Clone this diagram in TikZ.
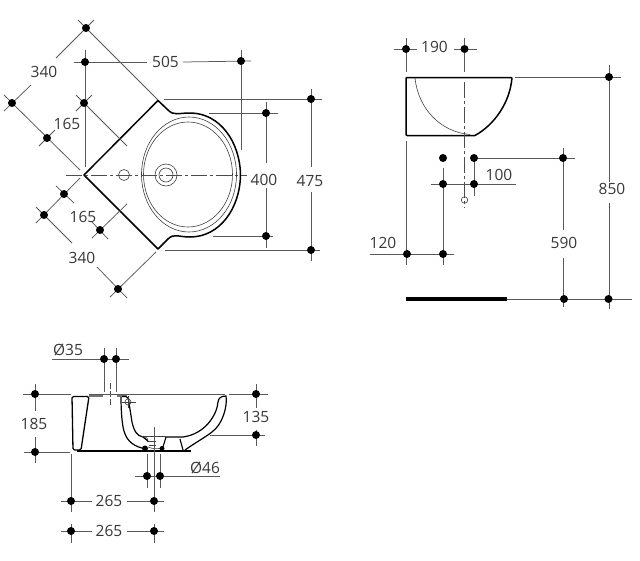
\documentclass[tikz,border=0pt]{standalone}
\usepackage{fontspec}
\setmainfont{Open Sans}
\tikzset{
  dimdot/.style={circle,fill=black,inner sep=0pt,minimum size=8pt},
  dimline/.style={draw=black!65,line width=0.75pt},
  dimlabel/.style={text=black!78,inner sep=0pt,font=\fontsize{15.5}{17}\selectfont},
  outline/.style={draw=black,line width=1.5pt,line join=round},
  thinline/.style={draw=black!75,line width=0.6pt},
  centreline/.style={draw=black!70,line width=0.7pt,dash pattern=on 16pt off 3pt on 3pt off 3pt}
}
\begin{document}
\begin{tikzpicture}[x=1pt,y=-1pt]
\useasboundingbox[fill=white] (0,0) rectangle (640,560);

% ===== top view =====
\draw[outline] (158,100.5) -- (84,175) -- (158,249) -- (168,239)
  .. controls (174,233) and (178,237) .. (190,237)
  .. controls (220,237) and (240,208) .. (240.5,175)
  .. controls (240,142) and (220,113) .. (190,113)
  .. controls (178,113) and (174,116) .. (168,110) -- cycle;
\draw[thinline] (189,174.5) ellipse [x radius=47.5,y radius=57.5];
\draw[thinline] (188,174.5) ellipse [x radius=44.5,y radius=52.5];
\node[circle,thinline,minimum size=22pt,inner sep=0pt] (drainA) at (166,175) {};
\node[circle,thinline,minimum size=14pt,inner sep=0pt] (drainB) at (166,175) {};
\node[circle,thinline,minimum size=11pt,inner sep=0pt] (tap) at (124,175) {};
\draw[centreline] (66,175) -- (247,175);

\draw[dimline] (78,20) -- (158,100);
\draw[dimline] (94,20) -- (56,58);
\draw[dimline] (31,85) -- (4,111);
\draw[dimline] (4,95) -- (80,170);
\draw[dimline] (55,130) -- (39,146);
\draw[dimline] (76,111) -- (92,95);
\draw[dimline] (76,95) -- (127,146);
\node[dimlabel] (l340a) at (44,72) {340};
\node[dimlabel] (l165a) at (67,124) {165};

\draw[dimline] (74,62) -- (147,62);
\draw[dimline] (183,62) -- (251,61);
\draw[dimline] (85,50) -- (85,167);
\draw[dimline] (241,50) -- (241,150);
\node[dimlabel] (l505) at (165.5,62) {505};

\draw[dimline] (311,89) -- (311,167);
\draw[dimline] (311,192) -- (311,261);
\draw[dimline] (164,99) -- (322,99);
\draw[dimline] (165,250) -- (320,250);
\node[dimlabel] (l475) at (310,181) {475};

\draw[dimline] (266,102) -- (266,163);
\draw[dimline] (266,188) -- (266,248);
\draw[dimline] (209,113) -- (278,113);
\draw[dimline] (213,236) -- (273,236);
\node[dimlabel] (l400) at (264,180) {400};

\draw[dimline] (80,178) -- (36,223);
\draw[dimline] (56,186) -- (74,203);
\draw[dimline] (36,207) -- (72,243);
\draw[dimline] (92,238) -- (127,204);
\draw[dimline] (92,222) -- (108,239);
\draw[dimline] (97,267) -- (127,298);
\draw[dimline] (110,297) -- (156,252);
\node[dimlabel] (l165b) at (83,217) {165};
\node[dimlabel] (l340b) at (82,258) {340};

% ===== side view =====
\draw[outline,rounded corners=1pt] (512,77.5) -- (406,77.5) -- (406,135.5) -- (475,135.5);
\draw[outline] (512,77.5) .. controls (510,103) and (494,125) .. (475,135.5);
\draw[thinline] (415,78) .. controls (418,108) and (440,132) .. (470,134.5);
\draw[centreline] (464.5,82) -- (464.5,208);
\node[circle,thinline,minimum size=6.5pt,inner sep=0pt] (axis) at (464.5,200) {};

\draw[dimline] (394,49) -- (417,49);
\draw[dimline] (454,49) -- (477,49);
\draw[dimline] (406,38) -- (406,72);
\draw[dimline] (464.5,38) -- (464.5,72);
\node[dimlabel] (l190) at (434.5,47) {190};

\draw[dimline] (474,158) -- (474,196);
\draw[dimline] (443,168) -- (443,265);
\draw[dimline] (431,184) -- (516,184);
\node[dimlabel] (l100) at (499,175) {100};

\draw[dimline] (474,158) -- (575,158);
\draw[dimline] (563,148) -- (563,230);
\draw[dimline] (563,258) -- (563,307);
\node[dimlabel] (l590) at (564,243) {590};

\draw[dimline] (609,65) -- (609,182);
\draw[dimline] (609,203) -- (609,309);
\draw[dimline] (515,77) -- (621,77);
\node[dimlabel] (l850) at (612,189) {850};

\draw[draw=black,line width=3.5pt] (406,299) -- (507,299);
\draw[dimline] (507,299) -- (632,299);

\draw[dimline] (370,254) -- (454,254);
\draw[dimline] (406,141) -- (406,265);
\node[dimlabel] (l120) at (383,243) {120};

% ===== section view =====
\draw[draw=black,line width=1.3pt,line join=round,rounded corners=1.5pt]
  (89,396.5) -- (72,396.5) -- (73,450) -- (81,450) -- cycle;
\draw[draw=black,line width=1.3pt] (77,451) -- (191,451);
\draw[draw=black!55,line width=1.6pt] (89,396) -- (103,396);
\draw[draw=black!55,line width=1.6pt] (117,396) -- (127,396);
\draw[draw=black,line width=1.2pt] (121,397) .. controls (121,410) and (122,425) .. (124,431)
  .. controls (127,442) and (135,447) .. (146,449);
\draw[draw=black,line width=1.2pt] (122,396.5) -- (126,396.5) .. controls (129,397) and (129,400) .. (129,403)
  -- (132,422) .. controls (134,431) and (137,436) .. (143,437) -- (148,441);
\draw[thinline] (142,436) -- (166,436);
\draw[thinline] (143,436) .. controls (147,438) and (148,438) .. (148,442);
\draw[draw=black,line width=1.1pt] (166,437) -- (163,447);
\draw[thinline] (147,441) -- (156,441);
\draw[thinline] (149,445) -- (156,445);
\draw[thinline] (148,447) .. controls (152,449) and (158,449) .. (162,448);
\node[circle,fill=black,inner sep=0pt,minimum width=6pt,minimum height=4pt] (blobA) at (145,448.5) {};
\node[circle,fill=black,inner sep=0pt,minimum width=5pt,minimum height=4pt] (blobB) at (162,448.5) {};
\draw[draw=black,line width=1.2pt] (166,437) -- (183,437)
  .. controls (205,434) and (217,415) .. (218,402) .. controls (218.5,398) and (221,396) .. (226,396)
  .. controls (227,404) and (225,413) .. (221,421)
  .. controls (215,433) and (205,436) .. (185,450);
\draw[draw=black,line width=1.1pt] (180,439) -- (183,450);
\draw[centreline,dash pattern=on 6pt off 2pt] (110,383) -- (110,407);
\draw[thinline] (122,402) -- (136,402);
\draw[thinline] (128,396) -- (128,408);
\draw[thinline] (128,402) circle [radius=3];

\draw[dimline] (89,394) -- (225,394);
\draw[dimline] (52,359) -- (129,359);
\draw[dimline] (104,348) -- (104,392);
\draw[dimline] (116,348) -- (116,392);
\node[dimlabel] (l35) at (68,350) {Ø35};

\draw[dimline] (23,394) -- (71,394);
\draw[dimline] (24,452) -- (70,452);
\draw[dimline] (35,384) -- (35,411);
\draw[dimline] (35,437) -- (35,463);
\node[dimlabel] (l185) at (34,424) {185};

\draw[dimline] (229,394) -- (268,394);
\draw[dimline] (210,435) -- (265,435);
\draw[dimline] (256,384) -- (256,408);
\draw[dimline] (256,430) -- (256,446);
\node[dimlabel] (l135) at (256,417) {135};

\draw[dimline] (135,476) -- (220,476);
\draw[dimline] (147,454) -- (147,488);
\draw[dimline] (160,454) -- (160,488);
\node[dimlabel] (l46) at (205,468) {Ø46};

\draw[dimline] (61,501) -- (92,501);
\draw[dimline] (127,501) -- (164,501);
\draw[dimline] (71,454) -- (71,512);
\draw[dimline] (154,427) -- (154,512);
\node[dimlabel] (l265a) at (109,501) {265};

\draw[dimline] (61,531) -- (92,531);
\draw[dimline] (127,531) -- (164,531);
\draw[dimline] (71,524) -- (71,543);
\draw[dimline] (154,524) -- (154,543);
\node[dimlabel] (l265b) at (109,531) {265};

% ===== dimension dots, over the lines =====
\foreach \n/\p in {a1/{86,28},a2/{12,103},a3/{47,138},a4/{84,103},b1/{85,62},b2/{241,61},
  c1/{311,99},c2/{311,250},d1/{266,113},d2/{266,236},e1/{64,194},e2/{100,230},e3/{44,215},e4/{118,289},
  f1/{406,49},f2/{464.5,49},g1/{443,158},g2/{474,158},g3/{443,184},g4/{474,184},
  h1/{563,158},h2/{564,299},i1/{609,77},i2/{608.5,299},j1/{407,254},j2/{443,254},
  k1/{104,359},k2/{116,359},m1/{35,394},m2/{35,452},n1/{256,394},n2/{256,435},
  p1/{147,476},p2/{160,476},q1/{71,501},q2/{154,501},r1/{71,531},r2/{154,531}}
  {\node[dimdot] (\n) at (\p) {};}
\end{tikzpicture}
\end{document}
